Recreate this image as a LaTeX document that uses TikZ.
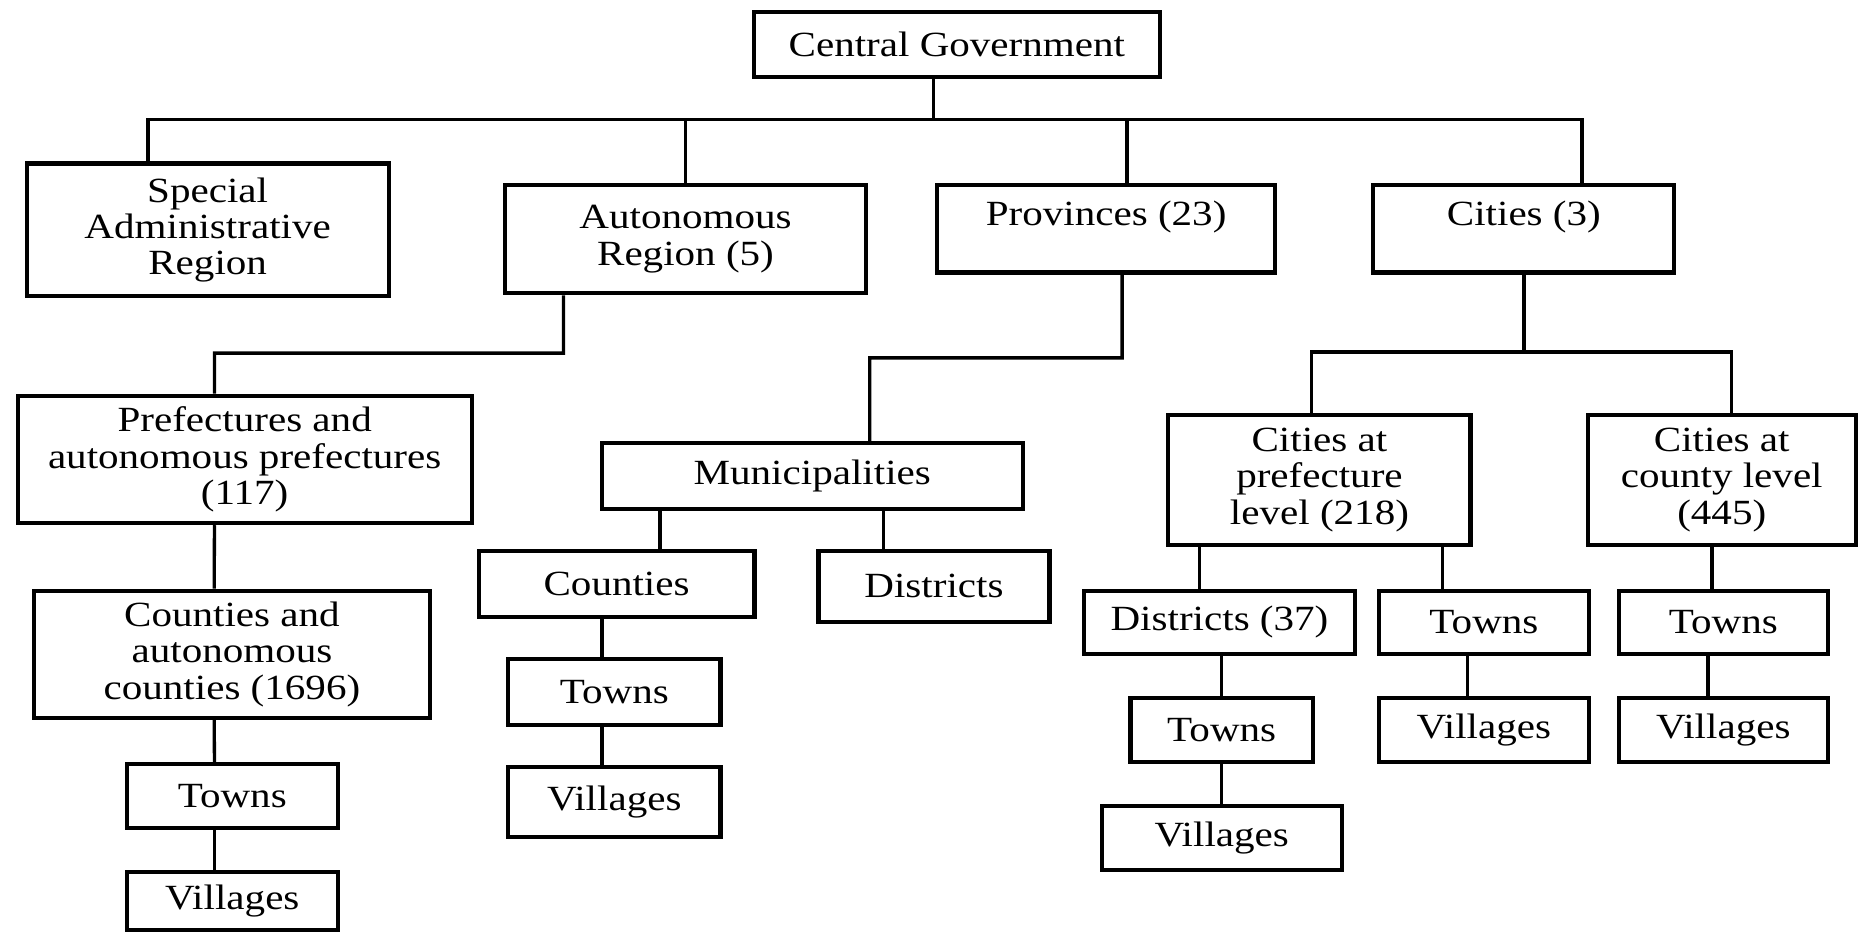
\documentclass[tikz,border=0pt]{standalone}
\usepackage{fontspec}
\setmainfont{Liberation Serif}[FakeStretch=1.16]
\begin{document}
\begin{tikzpicture}[x=0.1mm, y=-0.1mm,
  box/.style 2 args={draw, line width=1pt, align=center, inner sep=1pt,
    minimum width=#1, minimum height=#2, font=\fontsize{8.5}{8.7}\selectfont},
  link/.style={line width=0.8pt}]

  \useasboundingbox (0,0) rectangle (1568,787);

  % first and second level
  \node[box={34.3mm}{5.5mm}] (cg) at (807.5,37.5) {Central Government};

  \node[box={30.55mm}{11.2mm}] (sar) at (175.25,194) {Special\\Administrative\\Region};
  \node[box={30.5mm}{9.15mm}] (ar) at (578.5,201.8) {Autonomous\\Region (5)};
  \node[box={28.5mm}{7.4mm}] (prov) at (933.5,193) {\raisebox{1mm}[\height][\depth]{Provinces (23)}};
  \node[box={25.4mm}{7.4mm}] (cities) at (1286,193) {\raisebox{1mm}[\height][\depth]{Cities (3)}};

  % under the autonomous region
  \node[box={38.3mm}{10.75mm}] (pref) at (206.5,387.75) {Prefectures and\\autonomous prefectures\\(117)};
  \node[box={33.45mm}{10.75mm}] (cnty) at (195.75,552.25) {Counties and\\autonomous\\counties (1696)};
  \node[box={17.83mm}{5.38mm}] (tw1) at (196,671.6) {Towns};
  \node[box={17.83mm}{4.94mm}] (vil1) at (196,760.3) {Villages};

  % under the provinces
  \node[box={35.5mm}{5.56mm}] (muni) at (685.5,401.8) {Municipalities};
  \node[box={23.27mm}{5.6mm}] (mcty) at (520.35,492.7) {Counties};
  \node[box={19.5mm}{6mm}] (mdist) at (788.2,494.65) {Districts};
  \node[box={17.92mm}{5.6mm}] (tw2) at (518.4,584) {Towns};
  \node[box={17.92mm}{5.85mm}] (vil2) at (518.4,676.75) {Villages};

  % under the cities
  \node[box={25.5mm}{11mm}] (cpref) at (1113.5,405) {Cities at\\prefecture\\level (218)};
  \node[box={22.6mm}{11mm}] (ccounty) at (1453,405) {Cities at\\county level\\(445)};
  \node[box={22.87mm}{5.35mm}] (dist37) at (1029.15,525.25) {Districts (37)};
  \node[box={17.74mm}{5.35mm}] (tw3) at (1252.3,525.25) {Towns};
  \node[box={17.66mm}{5.35mm}] (tw4) at (1454.3,525.25) {Towns};
  \node[box={15.4mm}{5.38mm}] (tw5) at (1031,615.9) {Towns};
  \node[box={20.26mm}{5.4mm}] (vil5) at (1031,707) {Villages};
  \node[box={17.74mm}{5.4mm}] (vil3) at (1252.3,616) {Villages};
  \node[box={17.66mm}{5.4mm}] (vil4) at (1454.3,616) {Villages};

  % junctions
  \coordinate (bus) at (788,101);
  \coordinate (arj) at (181,298);
  \coordinate (provj) at (734,302);
  \coordinate (cityj) at (1286,297);

  \draw[link] (cg.south -| bus) -- (bus);
  \draw[link] ([xshift=-5.03mm]sar.north) |- (bus);
  \draw[link] (ar.north) |- (bus);
  \draw[link] ([xshift=1.75mm]prov.north) |- (bus);
  \draw[link] ([xshift=4.9mm]cities.north) |- (bus);

  \draw[link] ([xshift=-10.3mm]ar.south) |- (arj) -- ([xshift=-2.55mm]pref.north);
  \draw[link] ([xshift=-2.55mm]pref.south) -- ([xshift=-1.5mm]cnty.north);
  \draw[link] ([xshift=-1.5mm]cnty.south) -- ([xshift=-1.5mm]tw1.north);
  \draw[link] ([xshift=-1.5mm]tw1.south) -- ([xshift=-1.5mm]vil1.north);

  \draw[link] ([xshift=1.35mm]prov.south) |- (provj) -- ([xshift=4.85mm]muni.north);
  \draw[link] ([xshift=3.65mm]mcty.north) -- ([xshift=3.65mm]mcty.north |- muni.south);
  \draw[link] ([xshift=-4.25mm]mdist.north) -- ([xshift=-4.25mm]mdist.north |- muni.south);
  \draw[link] ([xshift=-1.05mm]tw2.north) -- ([xshift=-1.05mm]tw2.north |- mcty.south);
  \draw[link] ([xshift=-1.05mm]tw2.south) -- ([xshift=-1.05mm]vil2.north);

  \draw[link] (cities.south) -- (cityj);
  \draw[link] ([xshift=-0.65mm]cpref.north) |- (cityj);
  \draw[link] ([xshift=0.8mm]ccounty.north) |- (cityj);
  \draw[link] ([xshift=-1.7mm]dist37.north) -- ([xshift=-1.7mm]dist37.north |- cpref.south);
  \draw[link] ([xshift=-3.5mm]tw3.north) -- ([xshift=-3.5mm]tw3.north |- cpref.south);
  \draw[link] ([xshift=-0.95mm]tw4.north) -- ([xshift=-0.95mm]tw4.north |- ccounty.south);
  \draw[link] (tw5.north) -- (tw5.north |- dist37.south);
  \draw[link] (tw5.south) -- (vil5.north);
  \draw[link] ([xshift=-1.4mm]tw3.south) -- ([xshift=-1.4mm]vil3.north);
  \draw[link] ([xshift=-1.3mm]tw4.south) -- ([xshift=-1.3mm]vil4.north);
\end{tikzpicture}
\end{document}
